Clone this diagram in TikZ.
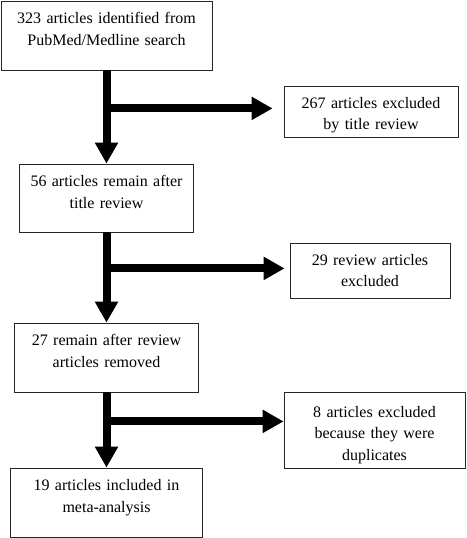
\documentclass[tikz,border=0pt]{standalone}
\usepackage{fontspec}
\setmainfont{Liberation Serif}
\usetikzlibrary{arrows.meta}

\begin{document}
\begin{tikzpicture}[x=1pt, y=-1pt,
    font=\fontsize{16}{21.7}\selectfont,
    box/.style={draw=black!85, line width=0.8pt, align=center, inner sep=0pt, text height=22.5pt},
    flow/.style={line width=8pt, -{Triangle[length=21pt, width=22pt]}}]
  \useasboundingbox (0,0) rectangle (466,538);
  % main column
  \node[box, text width=211pt, text depth=46.5pt] (found) at (106.5,35.5)
    {323 articles identified from\\PubMed/Medline search};
  \node[box, text width=174pt, text depth=45.5pt] (titlerev) at (106.5,198)
    {56 articles remain after\\title review};
  \node[box, text width=184pt, text depth=46.5pt] (reviewrev) at (106.5,357.5)
    {27 remain after review\\articles removed};
  \node[box, text width=192pt, text depth=46.5pt] (included) at (106.5,502.5)
    {19 articles included in\\meta-analysis};
  % excluded
  \node[box, text width=174pt, text height=22pt, text depth=29pt] (excltitle) at (371,111.5)
    {267 articles excluded\\by title review};
  \node[box, text width=160pt, text height=22pt, text depth=33pt] (exclreview) at (370,270.5)
    {29 review articles\\excluded};
  \node[box, text width=181pt, text height=25pt, text depth=51pt] (excldup) at (374.5,430)
    {8 articles excluded\\because they were\\duplicates};
  % arrows
  \path (found.south) ++(0,38) coordinate (j1);
  \path (titlerev.south) ++(0,36) coordinate (j2);
  \path (reviewrev.south) ++(0,29) coordinate (j3);
  \draw[flow] (found) -- (titlerev);
  \draw[flow] (titlerev) -- (reviewrev);
  \draw[flow] (reviewrev) -- (included);
  \draw[flow, shorten >=11pt] (j1) -- (j1 -| excltitle.west);
  \draw[flow, shorten >=5pt] (j2) -- (j2 -| exclreview.west);
  \draw[flow] (j3) -- (j3 -| excldup.west);
\end{tikzpicture}
\end{document}
